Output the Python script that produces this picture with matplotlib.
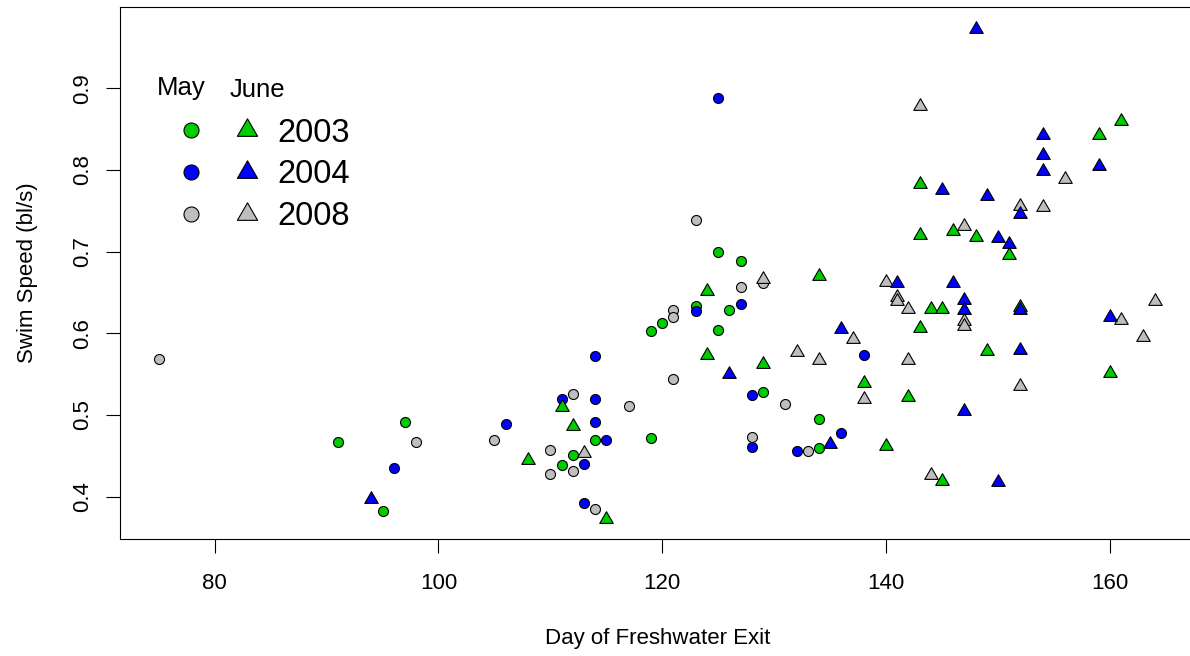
import matplotlib
matplotlib.use("Agg")
import matplotlib.pyplot as plt
from matplotlib.path import Path
from matplotlib.lines import Line2D
from matplotlib.legend_handler import HandlerTuple

plt.rcParams['font.family'] = ['Liberation Sans', 'DejaVu Sans']

# ---------------- data (day of freshwater exit, swim speed bl/s) ----------------
may2003_day = [91, 95, 97, 111, 112, 114, 119, 119, 120, 123, 125, 125, 126, 127, 129, 134, 134]
may2003_speed = [0.467, 0.382, 0.492, 0.439, 0.451, 0.469, 0.472, 0.603, 0.613, 0.633,
                 0.700, 0.604, 0.629, 0.689, 0.528, 0.495, 0.460]

june2003_day = [108, 111, 112, 115, 124, 124, 129, 134, 138, 140, 142, 143, 143, 143, 144,
                145, 145, 146, 148, 149, 151, 152, 159, 160, 161]
june2003_speed = [0.445, 0.510, 0.486, 0.373, 0.652, 0.574, 0.562, 0.670, 0.539, 0.462,
                  0.522, 0.783, 0.720, 0.606, 0.630, 0.630, 0.419, 0.725, 0.718, 0.578,
                  0.696, 0.632, 0.843, 0.552, 0.860]

may2004_day = [96, 106, 111, 113, 113, 114, 114, 114, 115, 123, 125, 127, 128, 128, 132, 136, 138]
may2004_speed = [0.435, 0.489, 0.520, 0.440, 0.392, 0.572, 0.520, 0.491, 0.469, 0.627,
                 0.888, 0.636, 0.524, 0.461, 0.456, 0.478, 0.573]

june2004_day = [94, 126, 135, 136, 141, 145, 146, 147, 147, 147, 148, 149, 150, 150, 151,
                152, 152, 152, 154, 154, 154, 159, 160]
june2004_speed = [0.397, 0.550, 0.465, 0.605, 0.662, 0.776, 0.662, 0.641, 0.628, 0.505,
                  0.973, 0.768, 0.717, 0.418, 0.709, 0.746, 0.628, 0.579, 0.843, 0.818,
                  0.799, 0.805, 0.620]

may2008_day = [75, 98, 105, 110, 110, 112, 112, 114, 117, 121, 121, 121, 123, 127, 128, 129, 131, 133]
may2008_speed = [0.568, 0.467, 0.469, 0.457, 0.428, 0.526, 0.431, 0.385, 0.511, 0.628,
                 0.620, 0.544, 0.739, 0.657, 0.473, 0.662, 0.513, 0.456]

june2008_day = [113, 129, 132, 134, 137, 138, 140, 141, 141, 142, 142, 143, 144, 147, 147,
                147, 152, 152, 154, 156, 161, 163, 164]
june2008_speed = [0.454, 0.667, 0.577, 0.567, 0.593, 0.519, 0.663, 0.645, 0.640, 0.630,
                  0.567, 0.878, 0.426, 0.731, 0.615, 0.609, 0.756, 0.536, 0.754, 0.789,
                  0.616, 0.595, 0.639]

years = ["2003", "2004", "2008"]
month_headers = ["May", "June"]
x_ticks = [80, 100, 120, 140, 160]
y_ticks = [0.4, 0.5, 0.6, 0.7, 0.8, 0.9]
x_label = "Day of Freshwater Exit"
y_label = "Swim Speed (bl/s)"

# ---------------- styles ----------------
col = {"2003": "#00CD00", "2004": "#0000FF", "2008": "#BEBEBE"}
# R-style triangle (pch 24), centred on its centroid
tri = Path([(0, 1.555), (1.347, -0.778), (-1.347, -0.778), (0, 1.555)],
           [Path.MOVETO, Path.LINETO, Path.LINETO, Path.CLOSEPOLY])
circ_ms = 7.2
tri_ms = 11.2
mew = 0.8

W, H = 1190, 656
fig = plt.figure(figsize=(W / 100, H / 100), dpi=100)
ax_l, ax_r, ax_b, ax_t = 120, 1194.5, 539, 7
ax = fig.add_axes([ax_l / W, (H - ax_b) / H, (ax_r - ax_l) / W, (ax_b - ax_t) / H])

def pts(x, y, marker, ms, c):
    ax.plot(x, y, linestyle="none", marker=marker, ms=ms, mfc=c, mec="black",
            mew=mew, clip_on=False)

pts(may2003_day, may2003_speed, "o", circ_ms, col["2003"])
pts(may2004_day, may2004_speed, "o", circ_ms, col["2004"])
pts(may2008_day, may2008_speed, "o", circ_ms, col["2008"])
pts(june2008_day, june2008_speed, tri, tri_ms, col["2008"])
pts(june2003_day, june2003_speed, tri, tri_ms, col["2003"])
pts(june2004_day, june2004_speed, tri, tri_ms, col["2004"])

ax.set_xlim(71.54, 167.56)
ax.set_ylim(0.3482, 0.9994)
ax.set_xticks(x_ticks)
ax.set_xticklabels([str(t) for t in x_ticks])
ax.set_yticks(y_ticks)
ax.set_yticklabels([f"{t:.1f}" for t in y_ticks])

for s in ax.spines.values():
    s.set_linewidth(0.8)
    s.set_color("black")
ax.tick_params(axis="both", direction="out", length=10, width=0.8, colors="black",
               labelsize=16)
ax.tick_params(axis="x", pad=14.4)
ax.tick_params(axis="y", pad=9.4)
plt.setp(ax.get_yticklabels(), rotation=90, va="center")

ax.set_xlabel(x_label, fontsize=16)
ax.xaxis.set_label_coords(0.5, (ax_b - 628) / (ax_b - ax_t))
ax.set_ylabel(y_label, fontsize=16)
ax.yaxis.set_label_coords((37.7 - ax_l) / (ax_r - ax_l), 0.5)

# ---------------- legend ----------------
handles = []
for y in years:
    c = Line2D([], [], linestyle="none", marker="o", ms=circ_ms * 1.5, mfc=col[y],
               mec="black", mew=mew)
    t = Line2D([], [], linestyle="none", marker=tri, ms=tri_ms * 1.5, mfc=col[y],
               mec="black", mew=mew)
    handles.append((c, t))
fs = 23.5
fs_px = fs * 100 / 72
leg_left = 162.3
leg_top = 130 - 0.38 * fs_px
ax.legend(handles, years, handler_map={tuple: HandlerTuple(ndivide=None, pad=0)},
          fontsize=fs, frameon=False, loc="upper left",
          bbox_to_anchor=((leg_left - ax_l) / (ax_r - ax_l), (ax_b - leg_top) / (ax_b - ax_t)),
          handlelength=113.5 / fs_px, handletextpad=1.5 / fs_px, labelspacing=0.33,
          borderaxespad=0, borderpad=0)
ax.text((157 - ax_l) / (ax_r - ax_l), (ax_b - 95) / (ax_b - ax_t), month_headers[0],
        transform=ax.transAxes, fontsize=18.5, ha="left", va="baseline")
ax.text((230 - ax_l) / (ax_r - ax_l), (ax_b - 97) / (ax_b - ax_t), month_headers[1],
        transform=ax.transAxes, fontsize=18.5, ha="left", va="baseline")

fig.savefig("out.png", dpi=100)
